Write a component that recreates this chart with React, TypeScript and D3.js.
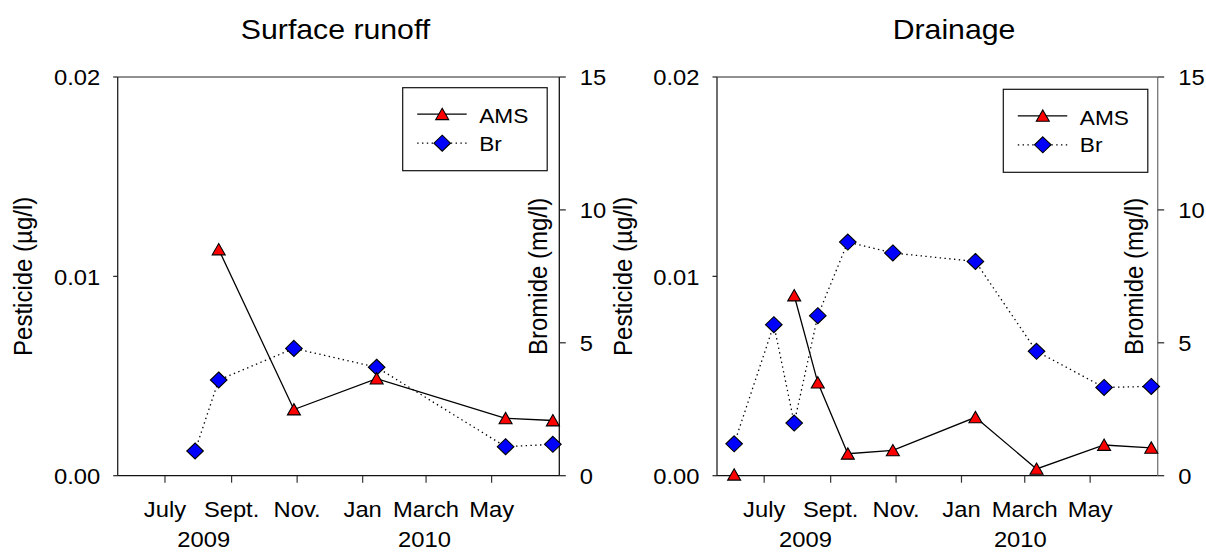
import React, { useEffect } from 'react';
import * as d3 from 'd3';

const parse = d3.timeParse('%Y-%m-%d') as (s: string) => Date;

// ---- data (null = no sample, line is broken there) ----
const runoffAmsDates = ['2009-08-20', '2009-10-29', '2010-01-14', '2010-05-14', '2010-06-27'];
const runoffAmsValues: (number | null)[] = [0.01135, 0.00332, 0.00487, 0.00288, 0.00277];
const runoffBrDates = ['2009-07-29', '2009-08-20', '2009-10-29', '2010-01-14', '2010-05-14', '2010-06-27'];
const runoffBrValues: (number | null)[] = [0.93, 3.6, 4.79, 4.08, 1.09, 1.18];

const drainAmsDates = ['2009-06-03', '2009-07-10', '2009-07-29', '2009-08-20', '2009-09-17', '2009-10-29', '2010-01-14', '2010-03-12', '2010-05-14', '2010-06-27'];
const drainAmsValues: (number | null)[] = [0.00005, null, 0.00904, 0.00467, 0.0011, 0.00127, 0.00293, 0.00034, 0.00154, 0.0014];
const drainBrDates = ['2009-06-03', '2009-07-10', '2009-07-29', '2009-08-20', '2009-09-17', '2009-10-29', '2010-01-14', '2010-03-12', '2010-05-14', '2010-06-27'];
const drainBrValues: (number | null)[] = [1.2, 5.68, 1.98, 6.02, 8.79, 8.38, 8.06, 4.68, 3.32, 3.36];

const monthTickDates = ['2009-07-01', '2009-09-01', '2009-11-01', '2010-01-01', '2010-03-01', '2010-05-01'];
const monthTickLabels = ['July', 'Sept.', 'Nov.', 'Jan', 'March', 'May'];
const yearLabels = ['2009', '2010'];
const pestTicks = [0, 0.01, 0.02];
const pestTickLabels = ['0.00', '0.01', '0.02'];
const brTicks = [0, 5, 10, 15];
const brTickLabels = ['0', '5', '10', '15'];
const xDomain = ['2009-05-18', '2010-07-03'];
const pestDomain = [0, 0.02];
const brDomain = [0, 15];
const seriesNames = ['AMS', 'Br'];
const titles = ['Surface runoff', 'Drainage'];

// ---- layout ----
const SX = 1.08;
const FONT = "'Liberation Sans', Arial, Helvetica, sans-serif";
const Y0 = 475.7;
const Y1 = 77;

type Pt = [Date, number | null];

const panels = [
  {
    title: titles[0], x0: 117.7, x1: 559.3, titleX: 335.5, pestLabelX: 32.3, brLabelX: 547.3,
    yearX: [203.7, 424.5], legendX: 402.7, legendY: 87.7, rightAxisColor: '#111',
    ams: runoffAmsDates.map((d, i) => [parse(d), runoffAmsValues[i]] as Pt),
    br: runoffBrDates.map((d, i) => [parse(d), runoffBrValues[i]] as Pt),
  },
  {
    title: titles[1], x0: 717, x1: 1157.7, titleX: 954, pestLabelX: 632, brLabelX: 1143.3,
    yearX: [805.5, 1020.3], legendX: 1003.3, legendY: 89.3, rightAxisColor: '#777',
    ams: drainAmsDates.map((d, i) => [parse(d), drainAmsValues[i]] as Pt),
    br: drainBrDates.map((d, i) => [parse(d), drainBrValues[i]] as Pt),
  },
];

const TRI = 'M0,-5.9 L6.5,5.4 L-6.5,5.4 Z';
const DIA = 'M0,-8 L8.3,0 L0,8 L-8.3,0 Z';
const DOT = '1.4,3.4';

function T(props: { x: number; y: number; size: number; anchor?: string; rot?: boolean; children: React.ReactNode }) {
  const { x, y, size, anchor = 'start', rot = false, children } = props;
  const tr = rot ? `translate(${x},${y}) rotate(-90) scale(1,${SX})` : `translate(${x},${y}) scale(${SX},1)`;
  return (
    <text transform={tr} fontSize={size} fontFamily={FONT} textAnchor={anchor} fill="#000">
      {children}
    </text>
  );
}

function Panel({ p }: { p: (typeof panels)[number] }) {
  const x = d3.scaleTime().domain(xDomain.map(parse)).range([p.x0, p.x1]);
  const yP = d3.scaleLinear().domain(pestDomain).range([Y0, Y1]);
  const yB = d3.scaleLinear().domain(brDomain).range([Y0, Y1]);
  const amsLine = d3.line<Pt>().defined((d) => d[1] != null).x((d) => x(d[0])).y((d) => yP(d[1] as number));
  const brLine = d3.line<Pt>().defined((d) => d[1] != null).x((d) => x(d[0])).y((d) => yB(d[1] as number));
  const midY = (Y0 + Y1) / 2;
  const lx = p.legendX;
  const ly = p.legendY;
  return (
    <g>
      <T x={p.titleX} y={38.5} size={28} anchor="middle">{p.title}</T>
      {/* frame */}
      <line x1={p.x0} x2={p.x1} y1={Y1} y2={Y1} stroke="#222" strokeWidth={1.2} />
      <line x1={p.x0} x2={p.x1} y1={Y0} y2={Y0} stroke="#111" strokeWidth={1.3} />
      <line x1={p.x0} x2={p.x0} y1={Y1} y2={Y0} stroke="#222" strokeWidth={1.3} />
      <line x1={p.x1} x2={p.x1} y1={Y1} y2={Y0} stroke={p.rightAxisColor} strokeWidth={1.3} />
      {/* left ticks */}
      {pestTicks.map((t, i) => (
        <g key={'p' + i}>
          <line x1={p.x0 - 4.5} x2={p.x0} y1={yP(t)} y2={yP(t)} stroke="#222" strokeWidth={1.2} />
          <T x={p.x0 - 17.5} y={yP(t) + 8.2} size={22} anchor="end">{pestTickLabels[i]}</T>
        </g>
      ))}
      {/* right ticks */}
      {brTicks.map((t, i) => (
        <g key={'b' + i}>
          <line x1={p.x1} x2={p.x1 + 6.5} y1={yB(t)} y2={yB(t)} stroke="#222" strokeWidth={1.2} />
          <T x={p.x1 + 20.5} y={yB(t) + 8.2} size={22} anchor="start">{brTickLabels[i]}</T>
        </g>
      ))}
      {/* bottom ticks */}
      {monthTickDates.map((d, i) => (
        <g key={'m' + i}>
          <line x1={x(parse(d))} x2={x(parse(d))} y1={Y0} y2={Y0 + 7} stroke="#333" strokeWidth={1.2} />
          <T x={x(parse(d))} y={516.7} size={22} anchor="middle">{monthTickLabels[i]}</T>
        </g>
      ))}
      {yearLabels.map((yl, i) => (
        <T key={'y' + i} x={p.yearX[i]} y={547.3} size={22} anchor="middle">{yl}</T>
      ))}
      {/* axis titles */}
      <T x={p.pestLabelX} y={midY} size={24} anchor="middle" rot>Pesticide (µg/l)</T>
      <T x={p.brLabelX} y={midY} size={24} anchor="middle" rot>Bromide (mg/l)</T>
      {/* series */}
      <path d={brLine(p.br) || ''} fill="none" stroke="#000" strokeWidth={1.3} strokeDasharray={DOT} />
      <path d={amsLine(p.ams) || ''} fill="none" stroke="#000" strokeWidth={1.3} />
      {p.br.filter((d) => d[1] != null).map((d, i) => (
        <path key={'bd' + i} d={DIA} transform={`translate(${x(d[0])},${yB(d[1] as number)})`} fill="#0000ff" stroke="#000" strokeWidth={1.1} />
      ))}
      {p.ams.filter((d) => d[1] != null).map((d, i) => (
        <path key={'ad' + i} d={TRI} transform={`translate(${x(d[0])},${yP(d[1] as number)})`} fill="#ff0000" stroke="#000" strokeWidth={1.1} />
      ))}
      {/* legend */}
      <rect x={lx} y={ly} width={144.5} height={83} fill="#fff" stroke="#111" strokeWidth={1.2} />
      <line x1={lx + 14.5} x2={lx + 64} y1={ly + 26.5} y2={ly + 26.5} stroke="#000" strokeWidth={1.3} />
      <path d={TRI} transform={`translate(${lx + 39.5},${ly + 26.5})`} fill="#ff0000" stroke="#000" strokeWidth={1.1} />
      <T x={lx + 76.5} y={ly + 35.5} size={21}>{seriesNames[0]}</T>
      <line x1={lx + 14.5} x2={lx + 64} y1={ly + 55.5} y2={ly + 55.5} stroke="#000" strokeWidth={1.3} strokeDasharray={DOT} />
      <path d={DIA} transform={`translate(${lx + 39.5},${ly + 55.5})`} fill="#0000ff" stroke="#000" strokeWidth={1.1} />
      <T x={lx + 76.5} y={ly + 63} size={21}>{seriesNames[1]}</T>
    </g>
  );
}

export default function App() {
  useEffect(() => {
    document.body.style.margin = '0';
  }, []);
  return (
    <svg
      width={1206}
      height={552}
      viewBox="0 0 1206 552"
      style={{ position: 'absolute', left: 0, top: 0, background: '#fff', display: 'block' }}
    >
      <rect x={0} y={0} width={1206} height={552} fill="#fff" />
      {panels.map((p, i) => (
        <Panel key={i} p={p} />
      ))}
    </svg>
  );
}
